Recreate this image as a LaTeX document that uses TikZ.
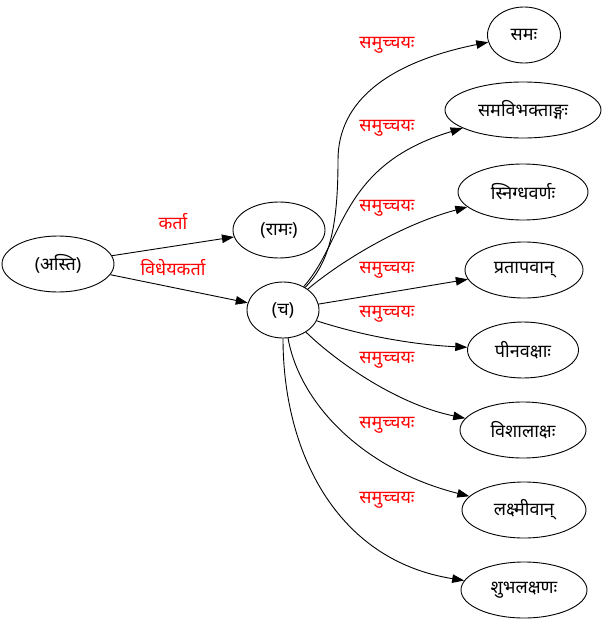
\documentclass[tikz,border=0pt]{standalone}
\usepackage{fontspec}
\setmainfont[Script=Devanagari]{Noto Sans}
\usetikzlibrary{arrows.meta,shapes.geometric}
\begin{document}
\begin{tikzpicture}[x=1pt,y=-1pt,
  nd/.style={draw,ellipse,line width=0.9pt,minimum height=56pt,inner sep=0pt,font=\fontsize{18}{20}\selectfont},
  lbl/.style={text=red,font=\fontsize{18}{20}\selectfont},
  edge/.style={draw,line width=0.9pt,-{Triangle[length=12pt,width=8.5pt]}}]
\useasboundingbox (0,0) rectangle (605,621);
\node[nd,minimum width=112pt] (asti) at (58,264) {(अस्ति)};
\node[nd,minimum width=92pt] (rama) at (279,230) {(रामः)};
\node[nd,minimum width=72pt] (ca) at (283,310) {(च)};
\node[nd,minimum width=73pt] (sama) at (524,35) {समः};
\node[nd,minimum width=156pt] (samav) at (523,110) {समविभक्ताङ्गः};
\node[nd,minimum width=130pt] (snig) at (523,192) {स्निग्धवर्णः};
\node[nd,minimum width=118pt] (prat) at (524,270) {प्रतापवान्};
\node[nd,minimum width=111pt] (pina) at (523,350) {पीनवक्षाः};
\node[nd,minimum width=126pt] (vish) at (523,430) {विशालाक्षः};
\node[nd,minimum width=124pt] (laks) at (524,510) {लक्ष्मीवान्};
\node[nd,minimum width=126pt] (shub) at (524,590) {शुभलक्षणः};
\coordinate (m1) at (338,160);
\path[edge] (asti) -- (rama);
\path[edge] (asti) -- (ca);
\path[edge] (ca) .. controls (330,262) and (338,225) .. (m1) .. controls (338,100) and (390,62) .. (sama);
\path[edge] (ca) .. controls (345,240) and (340,165) .. (samav);
\path[edge] (ca) .. controls (340,262) and (400,225) .. (snig);
\path[edge] (ca) -- (prat);
\path[edge] (ca) .. controls (370,338) and (420,345) .. (pina);
\path[edge] (ca) .. controls (340,365) and (400,405) .. (vish);
\path[edge] (ca) .. controls (300,405) and (365,470) .. (laks);
\path[edge] (ca) .. controls (283,450) and (335,560) .. (shub);
\node[lbl] (l1) at (173,222) {कर्ता};
\node[lbl] (l2) at (173,268) {विधेयकर्ता};
\node[lbl] (l3) at (387,45) {समुच्चयः};
\node[lbl] (l4) at (387,128) {समुच्चयः};
\node[lbl] (l5) at (387,208) {समुच्चयः};
\node[lbl] (l6) at (387,270) {समुच्चयः};
\node[lbl] (l7) at (387,314) {समुच्चयः};
\node[lbl] (l8) at (387,360) {समुच्चयः};
\node[lbl] (l9) at (387,425) {समुच्चयः};
\node[lbl] (l10) at (387,500) {समुच्चयः};
\end{tikzpicture}
\end{document}
